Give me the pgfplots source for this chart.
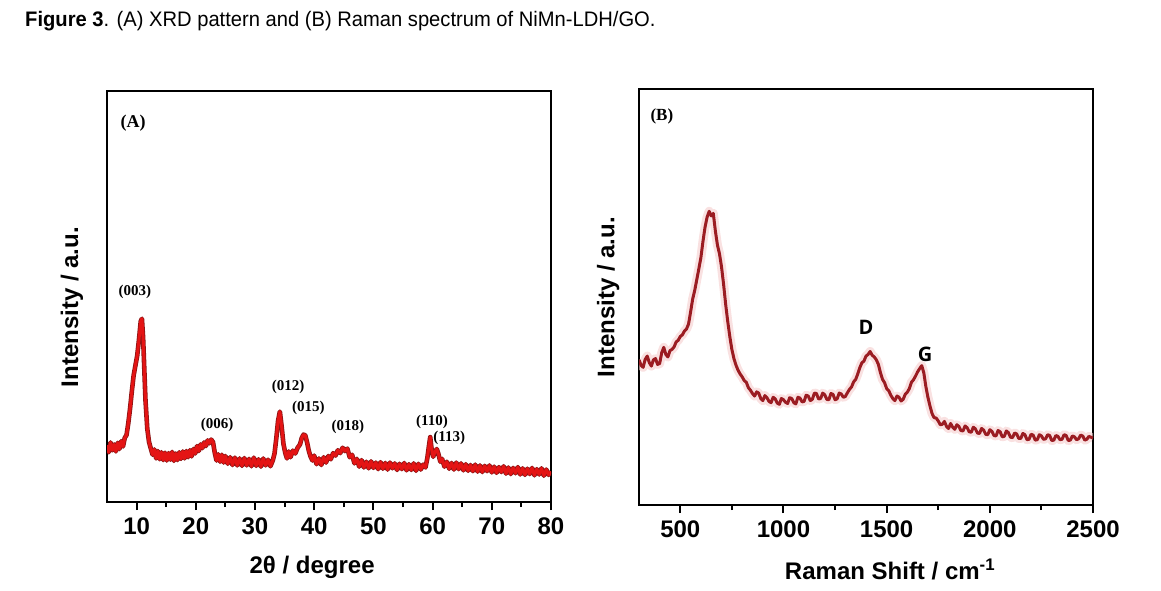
\documentclass[border=0pt]{standalone}
\usepackage{fontspec}
\setmainfont{Liberation Sans}
\newfontfamily\timesfont{Liberation Serif}
\newfontfamily\opensans{Open Sans}
\usepackage{pgfplots}
\pgfplotsset{compat=1.18}
\usepackage{pgfplotstable}
\definecolor{xrdred}{RGB}{228,20,20}
\definecolor{xrddark}{RGB}{140,20,20}
\definecolor{ramred}{RGB}{155,28,34}
\definecolor{ramhalo}{RGB}{245,205,205}

\pgfplotstableread{
x y
5.0 13.8
5.3 12.1
5.6 14.5
5.9 12.6
6.2 14.0
6.5 12.3
6.8 14.4
7.1 12.9
7.4 14.8
7.7 13.5
8.0 15.6
8.3 16.3
8.6 19.2
8.9 22.8
9.2 27.0
9.5 30.8
9.8 33.2
10.1 35.6
10.4 39.5
10.7 44.0
10.9 44.6
11.1 40.0
11.3 32.4
11.5 24.8
11.8 17.9
12.1 14.6
12.4 13.0
12.7 11.5
13.0 12.8
13.3 10.6
13.6 12.4
13.9 10.4
14.2 12.1
14.5 10.2
14.8 12.0
15.1 10.1
15.4 11.9
15.7 10.3
16.0 12.2
16.3 10.0
16.6 11.8
16.9 10.2
17.2 12.1
17.5 10.5
17.8 12.3
18.1 10.6
18.4 12.4
18.7 10.9
19.0 12.6
19.3 11.1
19.6 12.9
19.9 11.8
20.2 13.6
20.5 12.4
20.8 14.0
21.1 13.1
21.4 14.5
21.7 13.6
22.0 15.0
22.3 14.3
22.6 15.2
22.9 14.6
23.2 12.0
23.5 10.1
23.8 11.6
24.1 9.8
24.4 11.5
24.7 9.6
25.0 11.2
25.4 9.3
25.8 10.9
26.2 9.0
26.6 10.8
27.0 8.9
27.4 10.6
27.8 8.8
28.2 10.7
28.6 8.9
29.0 10.5
29.4 8.7
29.8 10.8
30.2 8.8
30.6 10.4
31.0 8.6
31.4 10.6
31.8 8.9
32.2 10.3
32.6 8.7
33.0 10.1
33.3 11.8
33.6 15.5
33.9 19.8
34.2 22.0
34.5 18.4
34.8 14.2
35.1 12.0
35.4 10.6
35.7 12.3
36.0 10.9
36.4 12.5
36.8 11.8
37.2 13.2
37.6 14.0
37.9 15.6
38.2 16.4
38.5 16.2
38.8 14.5
39.1 12.4
39.4 11.0
39.7 10.1
40.0 11.3
40.4 9.2
40.8 10.6
41.2 9.0
41.6 10.9
42.0 9.6
42.4 11.2
42.8 10.4
43.2 11.9
43.6 11.3
44.0 12.6
44.4 11.9
44.8 13.2
45.2 12.4
45.6 13.0
46.0 10.9
46.4 11.5
46.8 9.4
47.2 10.5
47.6 8.6
48.0 10.2
48.4 8.4
48.8 9.8
49.2 8.2
49.6 9.9
50.0 8.3
50.4 9.6
50.8 8.0
51.2 9.7
51.6 8.1
52.0 9.5
52.4 7.9
52.8 9.6
53.2 8.2
53.6 9.4
54.0 7.8
54.4 9.3
54.8 8.0
55.2 9.5
55.6 7.7
56.0 9.2
56.4 7.8
56.8 9.4
57.2 7.6
57.6 9.3
58.0 7.9
58.4 9.1
58.8 8.4
59.1 10.6
59.4 13.8
59.6 15.8
59.8 13.2
60.1 11.0
60.4 12.2
60.7 12.9
61.0 11.6
61.3 9.8
61.6 10.5
62.0 8.6
62.4 9.8
62.8 8.1
63.2 9.5
63.6 7.9
64.0 9.6
64.4 8.0
64.8 9.4
65.2 7.7
65.6 9.2
66.0 7.6
66.4 9.0
66.8 7.5
67.2 9.1
67.6 7.4
68.0 8.9
68.4 7.3
68.8 8.8
69.2 7.5
69.6 8.9
70.0 7.2
70.4 8.6
70.8 7.1
71.2 8.5
71.6 7.3
72.0 8.7
72.4 6.9
72.8 8.4
73.2 6.8
73.6 8.3
74.0 7.0
74.4 8.5
74.8 6.7
75.2 8.2
75.6 6.6
76.0 8.1
76.4 6.8
76.8 8.3
77.2 6.5
77.6 8.0
78.0 6.7
78.4 8.2
78.8 6.4
79.2 7.9
79.6 6.6
80.0 7.4
}\xrd

\pgfplotstableread{
x y
300 34.9
310 33.6
320 33.1
330 35.0
340 35.8
350 34.2
360 33.4
370 34.9
380 35.2
390 33.8
400 34.0
410 36.6
420 37.9
430 36.2
440 35.6
450 37.1
460 37.4
470 38.0
480 39.2
490 39.6
500 40.5
510 40.9
520 41.8
530 42.3
540 43.5
550 46.4
560 49.5
570 51.6
580 54.2
590 56.8
600 59.5
610 63.4
620 66.8
630 69.2
640 70.6
650 69.5
660 70.1
670 65.9
680 62.5
690 60.4
700 57.2
710 53.0
720 48.2
730 44.1
740 40.5
750 37.4
760 35.2
770 33.6
780 32.4
790 31.5
800 30.8
810 29.9
820 29.5
830 28.2
840 27.6
850 26.8
860 26.2
870 27.2
880 26.9
890 25.6
900 25.1
910 26.3
920 25.8
930 24.9
940 24.6
950 25.9
960 25.5
970 24.5
980 24.2
990 25.6
1000 25.3
1010 24.7
1020 24.4
1030 25.8
1040 25.6
1050 24.6
1060 24.3
1070 25.9
1080 25.7
1090 24.8
1100 24.9
1110 26.4
1120 26.2
1130 25.1
1140 25.4
1150 26.9
1160 26.8
1170 25.5
1180 25.6
1190 26.9
1200 26.5
1210 25.4
1220 25.3
1230 26.8
1240 26.6
1250 25.3
1260 25.5
1270 26.9
1280 26.7
1290 25.9
1300 26.1
1310 27.0
1320 27.8
1330 28.4
1340 29.6
1350 30.2
1360 31.5
1370 33.0
1380 34.2
1390 34.6
1400 35.8
1410 36.2
1420 36.9
1430 36.0
1440 35.6
1450 34.9
1460 33.8
1470 31.8
1480 30.2
1490 29.4
1500 28.0
1510 27.5
1520 26.4
1530 25.6
1540 25.1
1550 26.2
1560 25.9
1570 25.0
1580 25.4
1590 26.6
1600 27.1
1610 28.0
1620 29.5
1630 30.1
1640 31.0
1650 32.0
1660 32.8
1670 33.5
1680 31.8
1690 28.5
1700 25.9
1710 23.8
1720 22.0
1730 21.0
1740 20.9
1750 20.2
1760 19.3
1770 19.4
1780 20.1
1790 18.9
1800 18.4
1810 19.6
1820 18.7
1830 18.2
1840 19.3
1850 18.9
1860 17.9
1870 17.8
1880 19.0
1890 18.6
1900 17.6
1910 17.5
1920 18.7
1930 18.3
1940 17.3
1950 17.2
1960 18.4
1970 18.0
1980 17.0
1990 16.9
2000 18.1
2010 17.7
2020 16.7
2030 16.6
2040 17.9
2050 17.6
2060 16.4
2070 16.5
2080 17.8
2090 17.4
2100 16.3
2110 16.2
2120 17.3
2130 17.1
2140 16.0
2150 16.0
2160 17.2
2170 16.9
2180 15.7
2190 15.8
2200 17.0
2210 16.8
2220 15.6
2230 15.7
2240 16.9
2250 16.6
2260 15.8
2270 15.9
2280 16.9
2290 16.7
2300 15.5
2310 15.6
2320 16.7
2330 16.5
2340 15.7
2350 15.8
2360 16.9
2370 16.7
2380 15.5
2390 15.6
2400 16.6
2410 16.4
2420 15.7
2430 15.9
2440 16.8
2450 16.6
2460 15.6
2470 15.8
2480 16.5
2490 16.3
2500 16.1
}\raman

\pgfplotsset{
  panel/.style={
    scale only axis,
    axis line style={line width=2.2pt, black},
    ymin=0, ymax=100,
    ytick=\empty,
    xtick pos=bottom,
    tick align=outside,
    major tick length=8pt,
    minor tick length=5pt,
    every tick/.style={line width=2pt, black},
    minor tick num=1,
    /pgf/number format/assume math mode=true,
    /pgf/number format/1000 sep={},
    ticklabel style={font=\fontsize{24}{28}\selectfont\bfseries, yshift=-4pt},
    label style={font=\fontsize{24}{28}\selectfont\bfseries},
    clip=true,
  }
}

\begin{document}
\begin{tikzpicture}
\useasboundingbox (0pt,0pt) rectangle (1161pt,-590pt);
\node[anchor=west, inner sep=0pt] at (25pt,-21pt) {\scalebox{0.96}[1]{\fontsize{21}{24}\selectfont\textbf{Figure 3}. (A) XRD pattern and (B) Raman spectrum of NiMn-LDH/GO.}};

\begin{axis}[panel,
  at={(107pt,-91pt)}, anchor=north west,
  width=444pt, height=411pt,
  xmin=5, xmax=80,
  xtick={10,20,30,40,50,60,70,80},
  xlabel={2θ / degree},
  xlabel style={at={(axis description cs:0.462,-0.158)}, anchor=center},
  ylabel={Intensity / a.u.},
  ylabel style={at={(axis description cs:-0.079,0.474)}, anchor=center},
]
\addplot[xrddark, line width=4.6pt, line join=round] table[x=x,y=y] {\xrd};
\addplot[xrdred, line width=3pt, line join=round] table[x=x,y=y] {\xrd};
\node[font=\timesfont\bfseries\fontsize{18}{20}\selectfont] at (axis cs:9.4,92.2) {(A)};
\node[font=\timesfont\bfseries\fontsize{15}{17}\selectfont] at (axis cs:9.7,51.1) {(003)};
\node[font=\timesfont\bfseries\fontsize{15}{17}\selectfont] at (axis cs:23.6,18.7) {(006)};
\node[font=\timesfont\bfseries\fontsize{15}{17}\selectfont] at (axis cs:35.6,28.0) {(012)};
\node[font=\timesfont\bfseries\fontsize{15}{17}\selectfont] at (axis cs:39.0,22.9) {(015)};
\node[font=\timesfont\bfseries\fontsize{15}{17}\selectfont] at (axis cs:45.7,18.2) {(018)};
\node[font=\timesfont\bfseries\fontsize{15}{17}\selectfont] at (axis cs:59.9,19.5) {(110)};
\node[font=\timesfont\bfseries\fontsize{15}{17}\selectfont] at (axis cs:62.8,15.6) {(113)};
\end{axis}

\begin{axis}[panel,
  at={(639pt,-89pt)}, anchor=north west,
  width=454pt, height=416pt,
  xmin=300, xmax=2500,
  xtick={500,1000,1500,2000,2500},
  xlabel={Raman Shift / cm\textsuperscript{-1}},
  xlabel style={at={(axis description cs:0.553,-0.156)}, anchor=center},
  ylabel={Intensity / a.u.},
  ylabel style={at={(axis description cs:-0.068,0.5)}, anchor=center},
]
\addplot[ramhalo, line width=9pt, line join=round, opacity=0.6] table[x=x,y=y] {\raman};
\addplot[ramred, line width=3pt, line join=round] table[x=x,y=y] {\raman};
\node[font=\timesfont\bfseries\fontsize{17}{19}\selectfont] at (axis cs:411,93.3) {(B)};
\node[font=\opensans\bfseries\fontsize{20}{24}\selectfont] at (axis cs:1400,42.8) {D};
\node[font=\opensans\bfseries\fontsize{20}{24}\selectfont] at (axis cs:1686,36.3) {G};
\end{axis}
\end{tikzpicture}
\end{document}
